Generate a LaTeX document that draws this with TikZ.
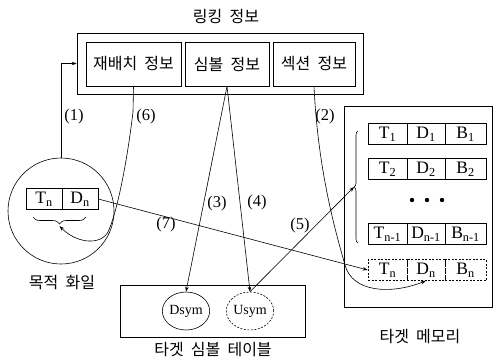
\documentclass[tikz,border=0pt]{standalone}
\usepackage{fontspec}
\setmainfont{Liberation Serif}
\newfontfamily\kr[WordSpace=2.0]{Noto Sans CJK KR}
\usetikzlibrary{arrows.meta,decorations.pathreplacing,shapes.geometric}
\begin{document}
\begin{tikzpicture}[x=1pt,y=-1pt, line width=0.6pt,
 box/.style={draw, inner sep=0pt},
 krt/.style={font=\kr\fontsize{16}{16}\selectfont, inner sep=0pt},
 cell/.style={draw, inner sep=0pt, minimum height=21pt, font=\fontsize{17.5}{17}\selectfont},
 dcell/.style={cell, dash pattern=on 2pt off 1.5pt},
 lab/.style={font=\fontsize{16.5}{16}\selectfont, inner sep=0pt},
 arr/.style={-{Stealth[length=5pt,width=3.5pt]}},
 sym/.style={draw, ellipse, inner sep=0pt, minimum width=34pt, minimum height=38pt, font=\fontsize{14}{14}\selectfont},
]
\useasboundingbox (0,0) rectangle (494,362);

% linking info
\node[krt] (title) at (226,16) {링킹 정보};
\node[box, minimum width=286pt, minimum height=61pt] (outer) at (220,63.5) {};
\node[box, krt, draw, minimum width=95pt, minimum height=44pt] (reloc) at (133.5,64) {재배치 정보};
\node[box, krt, draw, minimum width=84pt, minimum height=44pt] (symb) at (227,64) {심볼 정보};
\node[box, krt, draw, minimum width=82pt, minimum height=44pt] (sect) at (314,64) {섹션 정보};

% object file
\node[draw, circle, minimum size=106pt, inner sep=0pt] (file) at (61,211) {};
\node[cell, minimum width=36pt] (tn0) at (44,199) {T\textsubscript{n}};
\node[cell, minimum width=36pt] (dn0) at (80,199) {D\textsubscript{n}};
\draw[decorate, decoration={brace, amplitude=7pt}] (86,217) -- (33,217);
\coordinate (btip) at (59.5,226);
\node[krt] (filelab) at (62,282) {목적 화일};

% target memory
\node[box, minimum width=148pt, minimum height=201pt] (mem) at (418,206.5) {};
\node[krt] (memlab) at (420,337) {타겟 메모리};
\node[cell, minimum width=39pt] (t1) at (387.5,134) {T\textsubscript{1}};
\node[cell, minimum width=38pt] (d1) at (426,134) {D\textsubscript{1}};
\node[cell, minimum width=41pt] (b1) at (465.5,134) {B\textsubscript{1}};
\node[cell, minimum width=39pt] (t2) at (387.5,169) {T\textsubscript{2}};
\node[cell, minimum width=38pt] (d2) at (426,169) {D\textsubscript{2}};
\node[cell, minimum width=41pt] (b2) at (465.5,169) {B\textsubscript{2}};
\fill (412,200) circle (2.2pt) (427,200) circle (2.2pt) (442,200) circle (2.2pt);
\node[cell, minimum width=39pt] (tm) at (387.5,234) {T\textsubscript{n-1}};
\node[cell, minimum width=38pt] (dm) at (426,234) {D\textsubscript{n-1}};
\node[cell, minimum width=41pt] (bm) at (465.5,234) {B\textsubscript{n-1}};
\node[dcell, minimum width=39pt] (tn) at (387.5,270) {T\textsubscript{n}};
\node[dcell, minimum width=38pt] (dn) at (426,270) {D\textsubscript{n}};
\node[dcell, minimum width=41pt] (bn) at (465.5,270) {B\textsubscript{n}};
\draw[decorate, decoration={brace, amplitude=4pt}] (358,243) -- (358,131);
\coordinate (mtip) at (354,187);

% target symbol table
\node[box, minimum width=185pt, minimum height=52pt] (tab) at (212.5,311) {};
\node[krt] (tablab) at (213,350) {타겟 심볼 테이블};
\node[sym] (dsym) at (186,311) {Dsym};
\node[sym, dash pattern=on 2pt off 1.5pt] (usym) at (250,311) {Usym};

% connectors
\draw[arr] (file.north) |- (outer.west);
\node[lab] at (74,117) {(1)};
\draw[arr] (reloc.south) -- (133,112) .. controls (126,170) and (116,215) .. (108,232) .. controls (100,246) and (76,243) .. (btip);
\node[lab] at (146,117) {(6)};
\draw[arr] (sect.south) .. controls (318,170) and (335,230) .. (345,265) .. controls (352,292) and (390,295) .. (dn.south);
\node[lab] at (325,117) {(2)};
\draw[arr] (symb.south) -- (dsym.north);
\node[lab] at (217,204) {(3)};
\draw[arr] (symb.south) -- (usym.north);
\node[lab] at (257,203) {(4)};
\draw[arr] (usym.north) -- (mtip);
\node[lab] at (300,226) {(5)};
\draw[arr] (dn0.east) -- (tn.west);
\node[lab] at (166,225) {(7)};
\end{tikzpicture}
\end{document}
